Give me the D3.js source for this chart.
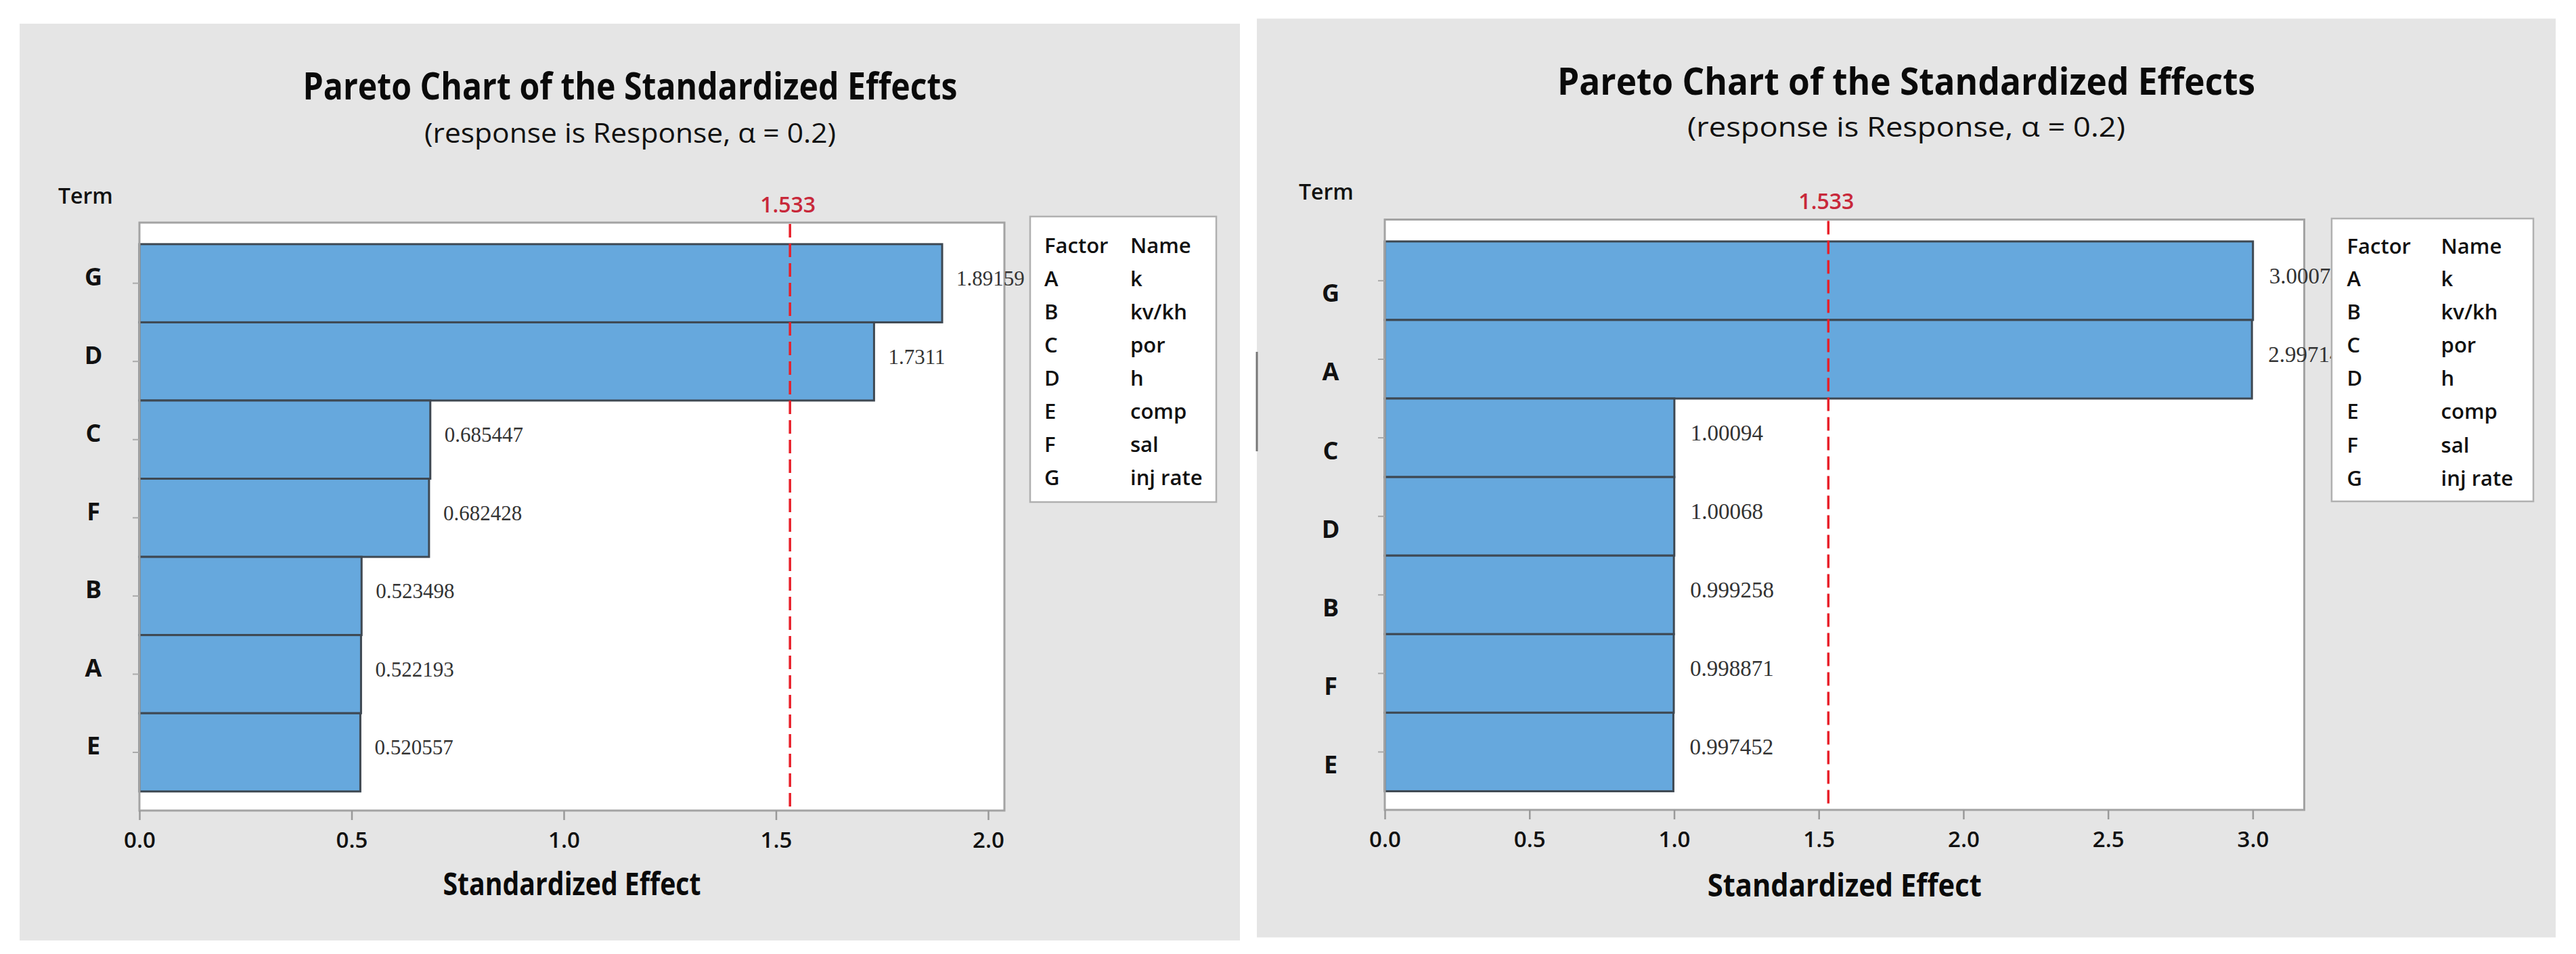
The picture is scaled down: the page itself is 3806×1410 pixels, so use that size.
<!DOCTYPE html>
<html><head><meta charset="utf-8">
<script src="https://cdn.jsdelivr.net/npm/d3@7"></script>
<style>body{margin:0;background:#fff;} svg{display:block;}</style>
</head><body>
<svg id="c" width="3806" height="1410"></svg>
<script>
// ---------- data ----------
const chartTitle = "Pareto Chart of the Standardized Effects";
const chartSubtitle = "(response is Response, \u03B1 = 0.2)";
const xAxisTitle = "Standardized Effect";
const yAxisTitle = "Term";
const criticalValue = 1.533;
const criticalLabel = "1.533";
const legendHeader = ["Factor", "Name"];
const factorCodes = ["A", "B", "C", "D", "E", "F", "G"];
const factorNames = ["k", "kv/kh", "por", "h", "comp", "sal", "inj rate"];

const terms1 = ["G", "D", "C", "F", "B", "A", "E"];
const effects1 = [1.89159, 1.7311, 0.685447, 0.682428, 0.523498, 0.522193, 0.520557];
const effectLabels1 = ["1.89159", "1.7311", "0.685447", "0.682428", "0.523498", "0.522193", "0.520557"];
const xTicks1 = [0, 0.5, 1.0, 1.5, 2.0];

const terms2 = ["G", "A", "C", "D", "B", "F", "E"];
const effects2 = [3.00074, 2.99714, 1.00094, 1.00068, 0.999258, 0.998871, 0.997452];
const effectLabels2 = ["3.00074", "2.99714", "1.00094", "1.00068", "0.999258", "0.998871", "0.997452"];
const xTicks2 = [0, 0.5, 1.0, 1.5, 2.0, 2.5, 3.0];

// ---------- layout ----------
const layoutL = {
  bg: [29, 35, 1803, 1355],
  plot: {x0: 206, x1: 1484, y0: 329, y1: 1198}, xMax: 2.0383, pad: 0.26, align: 0.53,
  titleX: 931, titleY: 147, titleW: 967, subY: 211, subW: 608,
  termX: 86, termY: 301, critY: 314,
  legend: {x: 1522, y: 320, w: 275, h: 422, c1: 1543, c2: 1670, hy: 374, ry: 422.5, dy: 49},
  tickY: 1253, axTitleY: 1323, axTitleW: 381,
  yLabDx: -68, yLabDy: -10, valDx: 21, valDy: -7, valFont: 31
};
const layoutR = {
  bg: [1857, 27.5, 1919, 1358],
  plot: {x0: 2046, x1: 3404.5, y0: 324.5, y1: 1197}, xMax: 3.178, pad: 0.258, align: 0.54,
  titleX: 2816.5, titleY: 140, titleW: 1031, subY: 202, subW: 647,
  termX: 1919, termY: 295, critY: 309,
  legend: {x: 3445, y: 323, w: 298, h: 418, c1: 3467.5, c2: 3606.6, hy: 375, ry: 422.5, dy: 49.2},
  tickY: 1252, axTitleY: 1324.5, axTitleW: 405,
  yLabDx: -80, yLabDy: 18, valDx: 24, valDy: -7, valFont: 33
};

const SANS = "'Open Sans', 'Noto Sans', sans-serif";
const SERIF = "'Liberation Serif', 'DejaVu Serif', serif";
const svg = d3.select("#c");

function drawPanel(L, terms, effects, labels, xTicks) {
  const g = svg.append("g");
  const P = L.plot;
  g.append("rect").attr("x", L.bg[0]).attr("y", L.bg[1]).attr("width", L.bg[2]).attr("height", L.bg[3])
    .attr("fill", "#e5e5e5");

  const x = d3.scaleLinear().domain([0, L.xMax]).range([P.x0, P.x1]);
  const y = d3.scaleBand().domain(terms).range([P.y0, P.y1]).paddingInner(0).paddingOuter(L.pad).align(L.align);

  // titles
  g.append("text").attr("x", L.titleX).attr("y", L.titleY).attr("text-anchor", "middle")
    .attr("font-family", SANS).attr("font-weight", 700).attr("font-size", 56)
    .attr("textLength", L.titleW).attr("lengthAdjust", "spacingAndGlyphs").attr("fill", "#0a0a0a").text(chartTitle);
  g.append("text").attr("x", L.titleX).attr("y", L.subY).attr("text-anchor", "middle")
    .attr("font-family", SANS).attr("font-weight", 400).attr("font-size", 40)
    .attr("textLength", L.subW).attr("lengthAdjust", "spacingAndGlyphs").attr("fill", "#111").text(chartSubtitle);
  g.append("text").attr("x", L.termX).attr("y", L.termY)
    .attr("font-family", SANS).attr("font-weight", 600).attr("font-size", 32).attr("fill", "#111").text(yAxisTitle);

  // plot area
  g.append("rect").attr("x", P.x0).attr("y", P.y0).attr("width", P.x1 - P.x0).attr("height", P.y1 - P.y0)
    .attr("fill", "#fff");

  // bars
  g.selectAll("rect.bar").data(terms).enter().append("rect").attr("class", "bar")
    .attr("x", x(0)).attr("y", d => y(d))
    .attr("width", (d, i) => x(effects[i]) - x(0)).attr("height", y.bandwidth())
    .attr("fill", "#66a8dd").attr("stroke", "#3e4852").attr("stroke-width", 3);

  // frame
  g.append("rect").attr("x", P.x0).attr("y", P.y0).attr("width", P.x1 - P.x0).attr("height", P.y1 - P.y0)
    .attr("fill", "none").attr("stroke", "#a3a3a3").attr("stroke-width", 3);

  // critical line
  g.append("line").attr("x1", x(criticalValue)).attr("x2", x(criticalValue))
    .attr("y1", P.y0 + 2).attr("y2", P.y1 - 2)
    .attr("stroke", "#e8202a").attr("stroke-width", 3.5).attr("stroke-dasharray", "20,9");
  g.append("text").attr("x", x(criticalValue) - 3).attr("y", L.critY).attr("text-anchor", "middle")
    .attr("font-family", SANS).attr("font-weight", 600).attr("font-size", 32).attr("fill", "#c8283a")
    .text(criticalLabel);

  // value labels
  g.selectAll("text.val").data(terms).enter().append("text").attr("class", "val")
    .attr("x", (d, i) => x(effects[i]) + L.valDx)
    .attr("y", d => y(d) + y.bandwidth() / 2 + L.valDy)
    .attr("dominant-baseline", "central")
    .attr("font-family", SERIF).attr("font-size", L.valFont).attr("fill", "#333")
    .text((d, i) => labels[i]);

  // x axis
  const xa = g.append("g").attr("transform", `translate(0,${P.y1})`)
    .call(d3.axisBottom(x).tickValues(xTicks).tickFormat(d3.format(".1f")).tickSize(14).tickPadding(20));
  xa.select(".domain").remove();
  xa.selectAll(".tick line").attr("stroke", "#999").attr("stroke-width", 2.5);
  xa.selectAll(".tick text").attr("y", null).attr("dy", null)
    .attr("transform", `translate(0,${L.tickY - P.y1})`)
    .attr("font-family", SANS).attr("font-weight", 600).attr("font-size", 33).attr("fill", "#111");

  // y axis
  const ya = g.append("g").attr("transform", `translate(${P.x0},0)`)
    .call(d3.axisLeft(y).tickSize(10).tickPadding(0));
  ya.select(".domain").remove();
  ya.selectAll(".tick line").attr("stroke", "#aaa").attr("stroke-width", 2);
  ya.selectAll(".tick text").attr("x", L.yLabDx).attr("dy", null).attr("y", L.yLabDy)
    .attr("dominant-baseline", "central").attr("text-anchor", "middle")
    .attr("font-family", SANS).attr("font-weight", 700).attr("font-size", 36).attr("fill", "#111");

  // axis title
  g.append("text").attr("x", (P.x0 + P.x1) / 2).attr("y", L.axTitleY).attr("text-anchor", "middle")
    .attr("font-family", SANS).attr("font-weight", 700).attr("font-size", 46)
    .attr("textLength", L.axTitleW).attr("lengthAdjust", "spacingAndGlyphs").attr("fill", "#0a0a0a")
    .text(xAxisTitle);

  // legend
  const lg = L.legend;
  g.append("rect").attr("x", lg.x).attr("y", lg.y).attr("width", lg.w).attr("height", lg.h)
    .attr("fill", "#fff").attr("stroke", "#b0b0b0").attr("stroke-width", 2.5);
  const lt = g.append("g").attr("font-family", SANS).attr("font-weight", 600).attr("font-size", 31).attr("fill", "#111");
  lt.append("text").attr("x", lg.c1).attr("y", lg.hy).text(legendHeader[0]);
  lt.append("text").attr("x", lg.c2).attr("y", lg.hy).text(legendHeader[1]);
  lt.selectAll("text.code").data(factorCodes).enter().append("text").attr("class", "code")
    .attr("x", lg.c1).attr("y", (d, i) => lg.ry + i * lg.dy).text(d => d);
  lt.selectAll("text.name").data(factorNames).enter().append("text").attr("class", "name")
    .attr("x", lg.c2).attr("y", (d, i) => lg.ry + i * lg.dy).text(d => d);
}

drawPanel(layoutL, terms1, effects1, effectLabels1, xTicks1);
drawPanel(layoutR, terms2, effects2, effectLabels2, xTicks2);

// small dark mark at the right panel's left edge
svg.append("line").attr("x1", 1857).attr("x2", 1857).attr("y1", 520).attr("y2", 667)
  .attr("stroke", "#777").attr("stroke-width", 3);
</script>
</body></html>
